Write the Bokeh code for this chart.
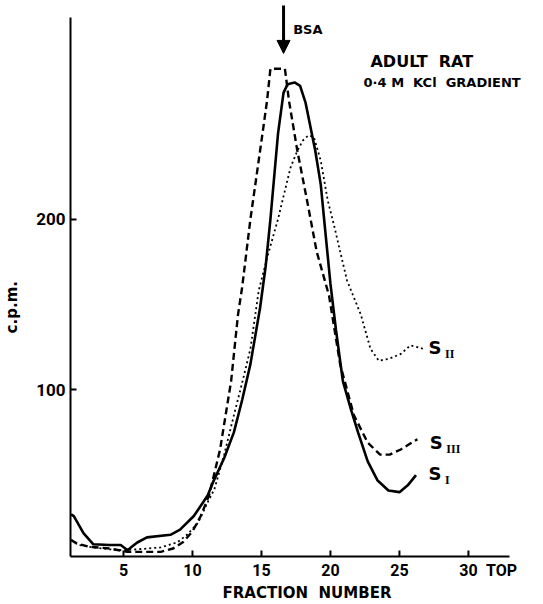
from bokeh.plotting import figure
from bokeh.models import Label, Arrow, NormalHead, FixedTicker, Range1d
from bokeh.embed import file_html
from bokeh.resources import INLINE

# S_I (solid)
s1_x = [1.2, 1.4, 2.1, 2.8, 4.0, 4.8, 5.3, 5.6, 6.0, 6.7, 8.4, 9.1, 10.1, 11.1, 11.5,
        12.3, 13.0, 13.6, 14.2, 14.9, 15.3, 15.65, 16.2, 16.6, 16.9, 17.4, 17.8, 18.2,
        18.9, 19.3, 19.6, 20.0, 20.4, 20.9, 21.5, 22.0, 22.7, 23.4, 24.2, 25.0, 25.6, 26.2]
s1_y = [27, 26, 16, 9.5, 9, 9, 6, 8, 10.5, 13.5, 15, 18, 26, 38, 46,
        60, 75, 94, 115, 148, 172, 200, 250, 274, 279, 280, 278, 268,
        240, 220, 195, 162, 135, 105, 88, 75, 58, 47, 41, 40, 44, 50]

# S_II (dotted)
s2_x = [1.2, 1.8, 2.8, 4.0, 5.0, 6.0, 7.7, 8.9, 9.6, 10.4, 11.1, 11.6, 12.3, 13.0, 13.6,
        14.2, 14.8, 15.4, 16.2, 17.1, 17.6, 18.0, 18.4, 18.8, 19.3, 19.8, 20.3, 20.7,
        21.2, 21.7, 22.2, 22.9, 23.5, 24.2, 25.1, 25.8, 26.3, 26.7]
s2_y = [12, 9, 7.6, 6.5, 6, 6.5, 7.6, 10.6, 15, 22, 34, 42, 62, 85, 104,
        124, 158, 177, 200, 230, 240, 246, 249, 248, 234, 211, 195, 181,
        164, 154, 144, 124, 117, 118, 121, 126, 125, 124]

# S_III (dashed)
s3_x = [1.2, 1.6, 2.5, 4.0, 5.3, 6.5, 7.7, 8.6, 9.3, 10.0, 10.6, 11.2, 12.0, 12.8, 13.3,
        13.6, 14.2, 14.9, 15.4, 15.65, 16.2, 16.7, 17.0, 17.6, 18.3, 19.0, 19.9, 20.7,
        21.7, 22.7, 23.6, 24.3, 25.1, 25.7, 26.3]
s3_y = [12, 10, 8, 7, 5, 5, 5, 7, 10.6, 17, 26, 38, 65, 105, 144,
        160, 200, 240, 269, 288, 288, 288, 269, 240, 211, 181, 155, 115,
        85, 69, 62, 62, 65, 68, 71]

x_ticks = [5, 10, 15, 20, 25, 30]
x_label_pos = [5, 10, 15, 20, 25, 30, 32.4]
x_label_txt = ["5", "10", "15", "20", "25", "30", "TOP"]
y_ticks = [100, 200]

X0, X1, XAX = 1.16, 35.44, 33.0
Y0, Y1, YAX = 2.3, 328.0, 318.0

FONT = "Roboto"
TFONT = "DejaVu Sans"
NB = "\u00a0"

p = figure(width=543, height=604, x_range=Range1d(X0, X1), y_range=Range1d(Y0, Y1),
           output_backend="svg", toolbar_location=None,
           min_border_left=70, min_border_right=0, min_border_top=0, min_border_bottom=48)
p.xgrid.visible = False
p.ygrid.visible = False
p.outline_line_color = None
p.background_fill_color = "white"

for ax, ticks, b in ((p.xaxis, x_label_pos, (X0, XAX)), (p.yaxis, y_ticks, (Y0, YAX))):
    ax.ticker = FixedTicker(ticks=ticks)
    ax.bounds = b
    ax.axis_line_width = 2
    ax.axis_line_color = "black"
    ax.major_tick_in = 6
    ax.major_tick_out = 0
    ax.major_tick_line_width = 2
    ax.minor_tick_line_color = None
    ax.major_label_text_font = FONT
    ax.major_label_text_font_style = "bold"
    ax.major_label_text_font_size = "16px"
    ax.major_label_text_color = "black"
    ax.major_label_standoff = 4
    ax.axis_label_text_font = TFONT
    ax.axis_label_text_font_style = "bold"
    ax.axis_label_text_font_size = "15px"
    ax.axis_label_text_color = "black"

p.yaxis.major_label_text_font_size = "17px"
p.yaxis.major_label_standoff = 5
p.xaxis.major_tick_line_color = None
p.xaxis.major_label_overrides = {pos: t for pos, t in zip(x_label_pos, x_label_txt)}
p.xaxis.axis_label = "FRACTION" + NB * 2 + "NUMBER"
p.xaxis.axis_label_standoff = 1
p.yaxis.axis_label = "c.p.m." + NB * 11
p.yaxis.axis_label_standoff = 12

# upward tick marks on the x axis (as in the original drawing)
p.segment(x0=x_ticks, y0=[Y0] * len(x_ticks), x1=x_ticks, y1=[Y0 + 3.5] * len(x_ticks),
          line_color="black", line_width=2)

p.line(s1_x, s1_y, line_color="black", line_width=2.6)
p.line(s3_x, s3_y, line_color="black", line_width=2.4, line_dash="7 4")
p.line(s2_x, s2_y, line_color="black", line_width=1.8, line_dash="2 3")

p.add_layout(Arrow(x_start=16.6, y_start=325, x_end=16.6, y_end=297, line_width=3,
                   end=NormalHead(size=13, fill_color="black", line_color="black")))

def lab(x, y, t, size, align="left", base="middle", font=TFONT):
    p.add_layout(Label(x=x, y=y, text=t, text_font=font, text_font_style="bold",
                       text_font_size=size, text_align=align, text_baseline=base,
                       text_color="black"))

lab(17.3, 311, "BSA", "13px")
lab(22.9, 292, "ADULT" + NB * 2 + "RAT", "16px")
lab(22.4, 280, "0·4 M" + NB * 2 + "KCl" + NB * 2 + "GRADIENT", "13px")

lab(27.1, 125, "S", "18px")
lab(28.3, 121, "II", "12px", font="Liberation Serif")
lab(27.2, 69, "S", "18px")
lab(28.4, 65, "III", "12px", font="Liberation Serif")
lab(27.1, 51, "S", "18px")
lab(28.3, 47, "I", "12px", font="Liberation Serif")

open("out.html", "w").write(file_html(p, INLINE))
